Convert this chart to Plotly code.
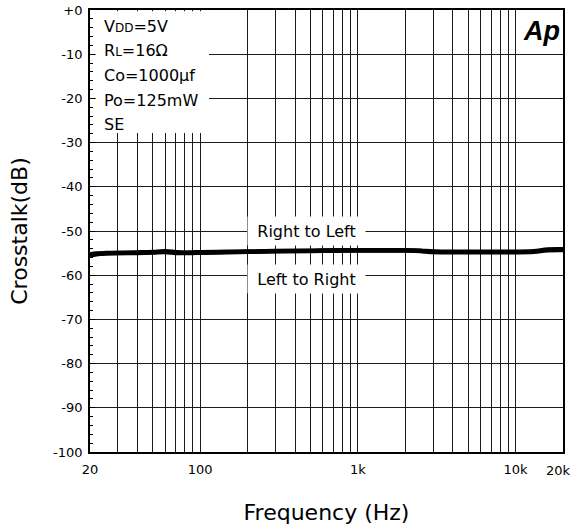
import plotly.graph_objects as go

# ---- data ----
freq_hz = [20, 22, 25, 30, 40, 50, 60, 70, 80, 90, 100, 150, 200, 300, 500, 700,
           1000, 1500, 2000, 2500, 3000, 5000, 7000, 10000, 13000, 16000, 20000]
right_to_left_db = [-55.3, -55.1, -55.0, -54.95, -54.85, -54.75, -54.6, -54.8, -54.9, -54.85,
                    -54.8, -54.7, -54.65, -54.55, -54.45, -54.35, -54.35, -54.35, -54.35,
                    -54.45, -54.65, -54.7, -54.7, -54.7, -54.6, -54.2, -54.15]
left_to_right_db = [-55.5, -55.25, -55.1, -55.0, -54.95, -54.85, -54.75, -54.95, -55.0, -54.95,
                    -54.9, -54.8, -54.7, -54.6, -54.5, -54.45, -54.4, -54.4, -54.4,
                    -54.5, -54.75, -54.8, -54.8, -54.8, -54.7, -54.35, -54.3]

x_grid_vals = [20, 30, 40, 50, 60, 70, 80, 90, 100, 200, 300, 400, 500, 600, 700, 800, 900,
               1000, 2000, 3000, 4000, 5000, 6000, 7000, 8000, 9000, 10000, 20000]
x_label_map = {20: "20", 100: "100", 1000: "1k", 10000: "10k"}
y_tick_vals = [0, -10, -20, -30, -40, -50, -60, -70, -80, -90, -100]
y_tick_text = ["+0", "-10", "-20", "-30", "-40", "-50", "-60", "-70", "-80", "-90", "-100"]

FONT = "DejaVu Sans"

fig = go.Figure()
fig.add_trace(go.Scatter(x=freq_hz, y=right_to_left_db, mode="lines",
                         line=dict(color="black", width=4.5), name="Right to Left",
                         line_shape="spline"))
fig.add_trace(go.Scatter(x=freq_hz, y=left_to_right_db, mode="lines",
                         line=dict(color="black", width=4.5), name="Left to Right",
                         line_shape="spline"))

fig.update_layout(
    width=573, height=529,
    margin=dict(l=90, r=10, t=10, b=77, autoexpand=False),
    paper_bgcolor="white", plot_bgcolor="white",
    showlegend=False,
    font=dict(family=FONT, color="black", size=13),
)

fig.update_xaxes(
    type="log", range=[1.30103, 4.30103],
    tickvals=x_grid_vals,
    ticktext=[x_label_map.get(v, "") for v in x_grid_vals],
    showgrid=True, gridcolor="#1a1a1a", gridwidth=1.2,
    ticks="", showline=True, linecolor="black", linewidth=1.8, mirror=True,
    tickfont=dict(size=13, family=FONT),
    ticklabelstandoff=4,
    title=dict(text="Frequency (Hz)", font=dict(size=22, family=FONT), standoff=29),
    zeroline=False, automargin=False,
)
fig.update_yaxes(
    range=[-100, 0],
    tickvals=y_tick_vals, ticktext=y_tick_text,
    showgrid=True, gridcolor="#1a1a1a", gridwidth=1.2,
    ticks="inside", ticklen=5, tickwidth=1.2, tickcolor="black",
    minor=dict(dtick=2, ticks="inside", ticklen=3, tickwidth=1, tickcolor="black", showgrid=False),
    showline=True, linecolor="black", linewidth=1.8, mirror=True,
    tickfont=dict(size=13, family=FONT),
    ticklabelstandoff=3,
    title=dict(text="Crosstalk(dB)", font=dict(size=22, family=FONT), standoff=19),
    zeroline=False, automargin=False,
)

# white box behind the conditions text (hides gridlines, keeps axis ticks)
fig.add_shape(type="rect", xref="paper", yref="paper", x0=0.012, x1=0.2516, y0=0.7216, y1=0.997,
              fillcolor="white", line=dict(width=0), layer="above")

cond_lines = [
    "V<span style='font-size:12px'>DD</span>=5V",
    "R<span style='font-size:12px'>L</span>=16Ω",
    "Co=1000µf",
    "Po=125mW",
    "SE",
]
cond_y = [0.962, 0.9095, 0.851, 0.796, 0.740]
for t, yy in zip(cond_lines, cond_y):
    fig.add_annotation(text=t, xref="paper", yref="paper", x=0.025, y=yy,
                       xanchor="left", yanchor="middle", showarrow=False,
                       font=dict(size=16, family=FONT, color="black"))

# curve labels with white background
for t, yy in [("Right to Left", 0.4994), ("Left to Right", 0.391)]:
    fig.add_annotation(text=t, xref="paper", yref="paper", x=0.458, y=yy,
                       xanchor="center", yanchor="middle", showarrow=False,
                       bgcolor="white", width=115, height=26,
                       font=dict(size=16, family=FONT, color="black"))

# 20k label (kept inside the canvas)
fig.add_annotation(text="20k", xref="paper", yref="paper", x=0.99, y=0,
                   xanchor="center", yanchor="top", yshift=-9, showarrow=False,
                   font=dict(size=13, family=FONT, color="black"))

# Ap logo
fig.add_annotation(text="<b><i>Ap</i></b>", xref="paper", yref="paper", x=0.998, y=0.992,
                   xanchor="right", yanchor="top", showarrow=False,
                   font=dict(size=27, family="Liberation Sans", color="black"))

fig.write_html("out.html", config={"displayModeBar": False},
               post_script="document.body.style.margin='0px';")
